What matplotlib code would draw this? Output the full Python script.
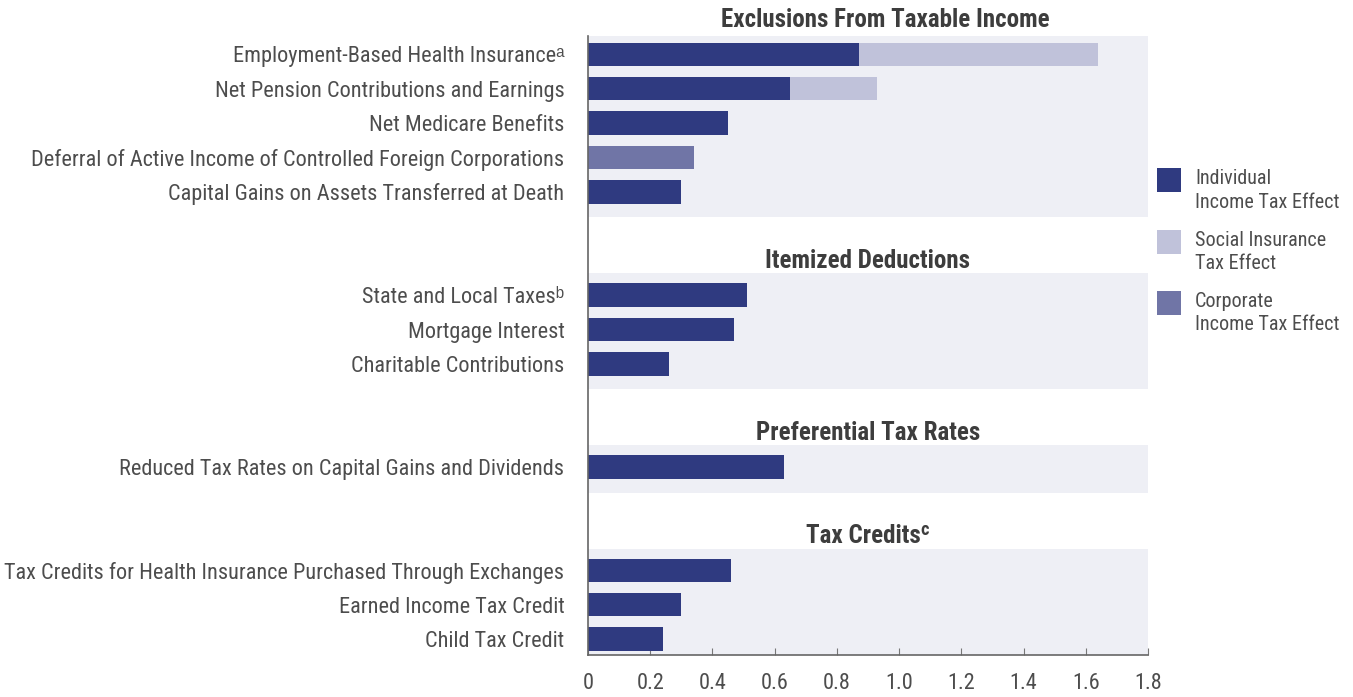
import matplotlib
matplotlib.use("Agg")
import matplotlib.pyplot as plt
from matplotlib.patches import Rectangle

plt.rcParams['font.family'] = ['Roboto Condensed', 'Liberation Sans', 'DejaVu Sans']

group_titles = ["Exclusions From Taxable Income", "Itemized Deductions",
                "Preferential Tax Rates", "Tax Credits\u1d9c"]
group_sizes = [5, 3, 1, 3]
labels = [
    "Employment-Based Health Insurance\u1d43",
    "Net Pension Contributions and Earnings",
    "Net Medicare Benefits",
    "Deferral of Active Income of Controlled Foreign Corporations",
    "Capital Gains on Assets Transferred at Death",
    "State and Local Taxes\u1d47",
    "Mortgage Interest",
    "Charitable Contributions",
    "Reduced Tax Rates on Capital Gains and Dividends",
    "Tax Credits for Health Insurance Purchased Through Exchanges",
    "Earned Income Tax Credit",
    "Child Tax Credit",
]
individual = [0.87, 0.65, 0.45, 0.00, 0.30, 0.51, 0.47, 0.26, 0.63, 0.46, 0.30, 0.24]
social = [0.77, 0.28, 0, 0, 0, 0, 0, 0, 0, 0, 0, 0]
corporate = [0, 0, 0, 0.34, 0, 0, 0, 0, 0, 0, 0, 0]
xticks = [0, 0.2, 0.4, 0.6, 0.8, 1.0, 1.2, 1.4, 1.6, 1.8]
xtick_labels = ["0", "0.2", "0.4", "0.6", "0.8", "1.0", "1.2", "1.4", "1.6", "1.8"]
legend_labels = ["Individual\nIncome Tax Effect", "Social Insurance\nTax Effect",
                 "Corporate\nIncome Tax Effect"]

c_ind = '#2f3a80'
c_soc = '#c0c2da'
c_corp = '#7075a6'
c_bg = '#eeeff5'
c_text = '#4d4d4d'
c_title = '#3d3d3d'

W, H = 1353, 697
fig = plt.figure(figsize=(W / 100, H / 100), dpi=100)
ax = fig.add_axes([588 / W, 1 - 655 / H, (1148 - 588) / W, 655 / H])

# row positions: groups separated by two empty rows
ypos = []
starts = []
row = 0
for n in group_sizes:
    starts.append(row)
    ypos += list(range(row, row + n))
    row += n + 2

for g, (s, n) in enumerate(zip(starts, group_sizes)):
    top = s - (0.53 if g == 0 else 0.63)
    bottom = s + n - 1 + 0.74
    ax.axhspan(top, bottom, color=c_bg, zorder=0, lw=0)
    ax.text(0.955 if g == 0 else 0.9, s - 1.0, group_titles[g], ha='center', va='center',
            fontsize=18, fontweight='bold', color=c_title)

h = 0.68
ax.barh(ypos, individual, height=h, color=c_ind, zorder=2)
ax.barh(ypos, social, left=individual, height=h, color=c_soc, zorder=2)
ax.barh(ypos, corporate, left=[a + b for a, b in zip(individual, social)],
        height=h, color=c_corp, zorder=2)

ax.set_xlim(0, 1.8)
ax.set_ylim(17.46, -1.58)
ax.set_yticks(ypos)
ax.set_yticklabels(labels, fontsize=16, color=c_text)
ax.tick_params(axis='y', length=0, pad=17)
ax.set_xticks(xticks)
ax.set_xticklabels(xtick_labels, fontsize=16, color=c_text)
ax.tick_params(axis='x', direction='in', length=5, color='#777777', pad=13)

for side in ['top', 'right']:
    ax.spines[side].set_visible(False)
ax.spines['left'].set_bounds(17.46, -0.53)
for side in ['left', 'bottom']:
    ax.spines[side].set_color('#666666')
    ax.spines[side].set_linewidth(1.2)
ax.patch.set_alpha(0)

# legend: square beside the first line of each two-line label
for i, (col, lab) in enumerate(zip([c_ind, c_soc, c_corp], legend_labels)):
    ytop = 168 + i * 61.5
    fig.add_artist(Rectangle((1157 / W, 1 - (ytop + 24) / H), 24 / W, 24 / H,
                             transform=fig.transFigure, color=col, lw=0))
    fig.text(1195 / W, 1 - (ytop + 1) / H, lab, ha='left', va='top',
             fontsize=14.5, color=c_text, linespacing=1.3)

fig.savefig('out.png', dpi=100)
